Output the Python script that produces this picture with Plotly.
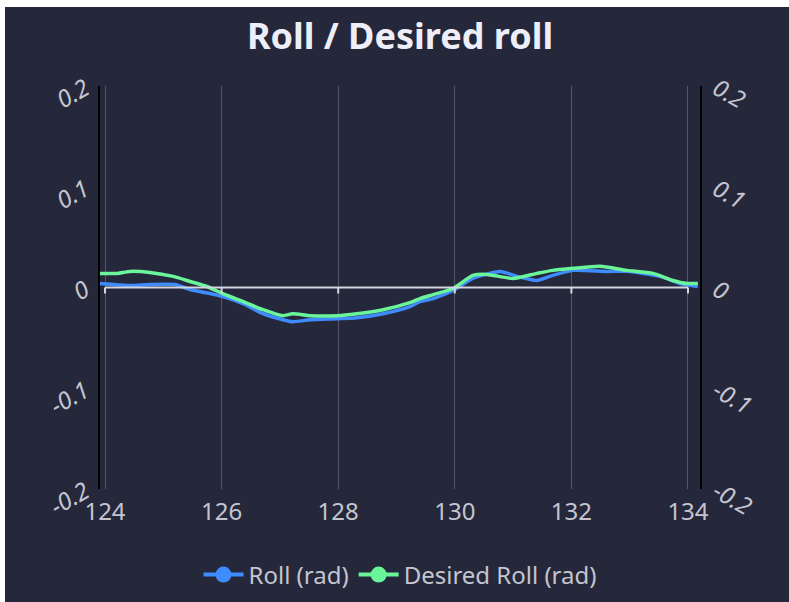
import plotly.graph_objects as go

# Time axis (s) and roll values (rad)
roll_t = [123.91, 124.43, 124.77, 125.20, 125.46, 125.80, 126.02, 126.37, 126.71,
          127.05, 127.22, 127.52, 127.98, 128.32, 128.77, 129.23, 129.40, 129.63,
          129.97, 130.31, 130.78, 131.07, 131.41, 131.68, 132.03, 132.61, 132.95,
          133.52, 133.86, 134.17]
roll = [0.004, 0.002, 0.003, 0.003, -0.002, -0.006, -0.009, -0.016, -0.026,
        -0.032, -0.034, -0.032, -0.031, -0.030, -0.026, -0.019, -0.014, -0.011,
        -0.003, 0.009, 0.016, 0.011, 0.007, 0.012, 0.017, 0.016, 0.016,
        0.011, 0.004, 0.001]

desired_t = [123.91, 124.20, 124.43, 124.77, 125.17, 125.46, 125.75, 126.02, 126.37,
             126.71, 127.05, 127.22, 127.52, 127.98, 128.32, 128.77, 129.23, 129.40,
             129.63, 129.97, 130.31, 130.55, 131.00, 131.41, 131.68, 132.03, 132.49,
             132.95, 133.40, 133.74, 133.98, 134.17]
desired_roll = [0.014, 0.014, 0.016, 0.015, 0.011, 0.006, 0.001, -0.006, -0.014,
                -0.022, -0.028, -0.026, -0.028, -0.028, -0.026, -0.022, -0.015, -0.011,
                -0.007, -0.001, 0.012, 0.013, 0.009, 0.014, 0.017, 0.019, 0.021,
                0.017, 0.014, 0.007, 0.004, 0.004]

x_ticks = [124, 126, 128, 130, 132, 134]
y_ticks = [-0.2, -0.1, 0, 0.1, 0.2]
y_tick_text = ["-0.2", "-0.1", "0", "0.1", "0.2"]

BG = "#25273b"
BLUE = "#3f8cff"
GREEN = "#6af59b"
LABEL = "#c4c5cf"
FONT = "Noto Sans"

fig = go.Figure()

fig.add_trace(go.Scatter(x=roll_t, y=roll, mode="lines", name="Roll (rad)",
                         line=dict(color=BLUE, width=3.5, shape="spline", smoothing=0.6),
                         showlegend=False, hoverinfo="skip"))
# desired roll sits on the right-hand axis (same scale)
fig.add_trace(go.Scatter(x=desired_t, y=desired_roll, mode="lines", name="Desired Roll (rad)",
                         yaxis="y2",
                         line=dict(color=GREEN, width=3.5, shape="spline", smoothing=0.6),
                         showlegend=False, hoverinfo="skip"))

# legend entries (line + dot symbols)
fig.add_trace(go.Scatter(x=[None], y=[None], mode="lines+markers", name="Roll (rad)",
                         line=dict(color=BLUE, width=4), marker=dict(color=BLUE, size=18)))
fig.add_trace(go.Scatter(x=[None], y=[None], mode="lines+markers", name="Desired Roll (rad)",
                         line=dict(color=GREEN, width=4), marker=dict(color=GREEN, size=18)))

# y = 0 axis line with its tick marks
shapes = [dict(type="line", xref="x", yref="y", x0=x_ticks[0], x1=x_ticks[-1], y0=0, y1=0,
               line=dict(color="#d4d5de", width=2), layer="above")]
for t in x_ticks:
    shapes.append(dict(type="line", xref="x", yref="y", ysizemode="pixel", yanchor=0,
                       x0=t, x1=t, y0=0, y1=-6, line=dict(color="#d4d5de", width=2),
                       layer="above"))

# light frame on the top and left edges
shapes.append(dict(type="rect", xref="paper", yref="paper", x0=-0.3, x1=1.3,
                   y0=(489 - 7) / 403, y1=1.4, fillcolor="white", line=dict(width=0),
                   layer="above"))
shapes.append(dict(type="rect", xref="paper", yref="paper", x0=-0.3, x1=(5 - 100) / 600,
                   y0=-0.4, y1=1.4, fillcolor="white", line=dict(width=0), layer="above"))

fig.update_layout(
    width=789, height=602,
    margin=dict(l=100, r=89, t=86, b=113, autoexpand=False),
    paper_bgcolor=BG, plot_bgcolor=BG,
    font=dict(family=FONT, color=LABEL),
    title=dict(text="Roll / Desired roll", x=0.5, xref="paper", xanchor="center",
               y=1 - 36 / 602, yref="container", yanchor="middle",
               font=dict(family=FONT, size=36, color="#eeeef8", weight="bold")),
    showlegend=True,
    legend=dict(orientation="h", x=0.5, xanchor="center",
                y=1 - 575 / 602, yref="container", yanchor="middle",
                font=dict(family=FONT, size=24, color=LABEL), bgcolor="rgba(0,0,0,0)",
                itemwidth=40, tracegroupgap=10),
    xaxis=dict(range=[123.914, 134.206], tickvals=x_ticks, ticktext=[str(t) for t in x_ticks],
               showgrid=True, gridcolor="#54576b", gridwidth=1, zeroline=False,
               showline=False, ticks="", ticklabelstandoff=6, automargin=False,
               tickfont=dict(family=FONT, size=24, color=LABEL)),
    yaxis=dict(range=[-0.2, 0.2], tickvals=y_ticks, ticktext=y_tick_text,
               showgrid=False, zeroline=False, showline=True, linecolor="black", linewidth=2,
               ticks="", tickangle=-30, ticklabelstandoff=8, automargin=False,
               tickfont=dict(family=FONT, size=24, color=LABEL, style="italic")),
    yaxis2=dict(range=[-0.2, 0.2], tickvals=y_ticks, ticktext=y_tick_text, overlaying="y",
                side="right", showgrid=False, zeroline=False, showline=True,
                linecolor="black", linewidth=2, ticks="", tickangle=30, ticklabelstandoff=10,
                automargin=False,
                tickfont=dict(family=FONT, size=24, color=LABEL, style="italic")),
    shapes=shapes,
)

fig.write_html("out.html")
